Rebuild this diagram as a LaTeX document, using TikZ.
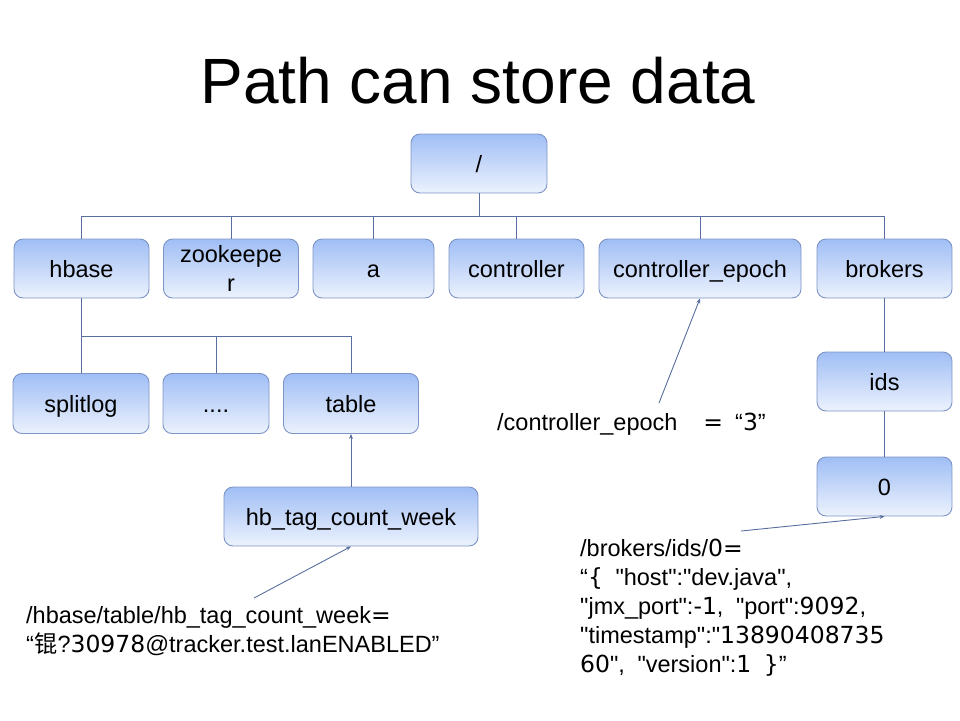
\documentclass[tikz,border=0pt]{standalone}
\usepackage{fontspec}
\setmainfont{Liberation Sans}[Ligatures=TeXOff]
\newfontfamily\cjk{Noto Sans CJK SC}
\newfontfamily\dv{DejaVu Sans}[Ligatures=TeXOff]
\usetikzlibrary{arrows.meta}

\definecolor{boxtop}{RGB}{160,190,245}
\definecolor{boxbot}{RGB}{236,242,253}
\definecolor{boxline}{RGB}{125,148,198}
\definecolor{wire}{RGB}{88,110,158}

\tikzset{
  x=1pt, y=-1pt,
  treebox/.style={draw=boxline, line width=0.9pt, rounded corners=9pt,
    top color=boxtop, bottom color=boxbot, inner sep=0pt,
    minimum height=59pt, align=center,
    font=\fontsize{23.5}{27}\selectfont},
  oneline/.style={text height=17pt, text depth=0pt},
  wire/.style={draw=wire, line width=0.9pt},
  pointer/.style={wire, -{Stealth[length=5pt,width=4pt]}},
  note/.style={anchor=base west, inner sep=0pt,
    font=\fontsize{23.5}{29}\selectfont},
}

\begin{document}
\begin{tikzpicture}
\useasboundingbox (0,0) rectangle (960,720);

% title
\node[anchor=base, inner sep=0pt, font=\fontsize{64}{70}\selectfont]
  (title) at (478,103) {Path can store data};

% root and first level
\node[treebox, oneline, minimum width=136pt] (root) at (479,163.5) {/};
\node[treebox, oneline, minimum width=135pt] (hbase) at (81.5,268.5) {hbase};
\node[treebox, minimum width=135pt] (zk) at (231,268.5) {zookeepe\\[2pt]r};
\node[treebox, oneline, minimum width=121pt] (a) at (373.5,268.5) {a};
\node[treebox, oneline, minimum width=135pt] (ctrl) at (516.5,268.5) {controller};
\node[treebox, oneline, minimum width=202pt] (epoch) at (700,268.5) {controller\_epoch};
\node[treebox, oneline, minimum width=135pt] (brokers) at (884.5,268.5) {brokers};

% hbase children
\node[treebox, oneline, minimum width=136pt, minimum height=60pt] (split) at (81,403.5) {splitlog};
\node[treebox, oneline, minimum width=106pt, minimum height=60pt] (dots) at (216,403.5) {....};
\node[treebox, oneline, minimum width=135pt, minimum height=60pt] (table) at (351,403.5) {table};
\node[treebox, oneline, minimum width=254pt] (hb) at (351,516.5) {hb\_tag\_count\_week};

% brokers children
\node[treebox, oneline, minimum width=135pt] (ids) at (884.5,381.5) {ids};
\node[treebox, oneline, minimum width=135pt] (zero) at (884.5,486.5) {0};

% tree connectors
\coordinate (bus) at (0,216);
\coordinate (hbus) at (0,336);
\draw[wire] (root.south) -- (root.south |- bus);
\draw[wire] (hbase.north) -- (hbase.north |- bus) -- (brokers.north |- bus) -- (brokers.north);
\foreach \n in {zk,a,ctrl,epoch}
  \draw[wire] (\n.north) -- (\n.north |- bus);
\draw[wire] (hbase.south) -- (hbase.south |- hbus) -- (table.north |- hbus) -- (table.north);
\foreach \n in {split,dots}
  \draw[wire] (\n.north) -- (\n.north |- hbus);
\draw[pointer] (hb.north) -- (table.south);
\draw[wire] (brokers.south) -- (ids.north);
\draw[wire] (ids.south) -- (zero.north);

% stored values
\node[note] (epochnote) at (497,430)
  {/controller\_epoch\hspace{26pt}{\dv =}\hspace{12pt}“{\dv 3}”};
\node[note] (hbnote1) at (26,623) {/hbase/table/hb\_tag\_count\_week{\dv =}};
\node[note] (hbnote2) at (26,652) {“{\cjk 锟}?{\dv 30978}@tracker.test.lanENABLED”};
\node[note] (bknote1) at (580,556) {/brokers/ids/{\dv 0=}};
\node[note] (bknote2) at (580,585) {“{\dv\{}\hspace{6pt} "host":"dev.java",};
\node[note] (bknote3) at (580,614) {"jmx\_port":{\dv -1},\hspace{6pt} "port":{\dv 9092},};
\node[note] (bknote4) at (580,643) {"timestamp":"{\dv 13890408735}};
\node[note] (bknote5) at (580,672) {{\dv 60}",\hspace{6pt} "version":{\dv 1}\hspace{6pt} {\dv\}}”};

\coordinate (epochtail) at (659,403);
\coordinate (hbtail) at (254,598);
\coordinate (bktail) at (741,531);
\draw[pointer] (epochtail) -- (epoch.south);
\draw[pointer] (hbtail) -- (hb.south);
\draw[pointer] (bktail) -- (zero.south);
\end{tikzpicture}
\end{document}
